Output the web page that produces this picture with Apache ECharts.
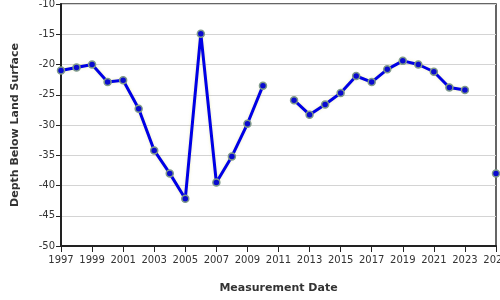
<!DOCTYPE html>
<html><head><meta charset="utf-8">
<script src="https://cdn.jsdelivr.net/npm/echarts@6/dist/echarts.min.js"></script>
<style>html,body{margin:0;padding:0;background:#fff}#c{width:500px;height:300px}</style>
</head><body><div id="c"></div>
<script>
const years = [1997,1998,1999,2000,2001,2002,2003,2004,2005,2006,2007,2008,2009,2010,2011,2012,2013,2014,2015,2016,2017,2018,2019,2020,2021,2022,2023,2024,2025];
const depths = [-21.0,-20.5,-20.0,-22.9,-22.6,-27.3,-34.2,-38.0,-42.2,-14.9,-39.5,-35.2,-29.8,-23.5,null,-25.9,-28.3,-26.6,-24.7,-21.9,-22.9,-20.8,-19.4,-20.0,-21.2,-23.8,-24.2,null,-38.0];
const yTitle = 'Depth Below Land Surface';
const xTitle = 'Measurement Date';

const chart = echarts.init(document.getElementById('c'), null, {renderer:'canvas'});
const font = 'DejaVu Sans';
chart.setOption({
  animation:false,
  grid:{left:61,right:4,top:4,bottom:54,containLabel:false,outerBoundsMode:'none',show:true,borderColor:'#333',borderWidth:1.5,backgroundColor:'transparent'},
  xAxis:{type:'value',min:1997,max:2025,interval:2,
    name:xTitle,nameLocation:'middle',nameGap:37,
    nameTextStyle:{fontFamily:font,fontSize:11,fontWeight:'bold',color:'#333'},
    axisLine:{show:true,lineStyle:{color:'#222',width:2}},
    axisTick:{show:true,length:6,lineStyle:{color:'#222',width:1}},
    axisLabel:{fontFamily:font,fontSize:10,color:'#333',margin:9,showMaxLabel:true,formatter:v=>String(v)},
    splitLine:{show:false}},
  yAxis:{type:'value',min:-50,max:-10,interval:5,
    name:yTitle,nameLocation:'middle',nameGap:40,nameRotate:90,
    nameTextStyle:{fontFamily:font,fontSize:11,fontWeight:'bold',color:'#333'},
    axisLine:{show:true,lineStyle:{color:'#222',width:2}},
    axisTick:{show:true,length:5,lineStyle:{color:'#222',width:1}},
    axisLabel:{fontFamily:font,fontSize:10,color:'#333',margin:6},
    splitLine:{show:true,lineStyle:{color:'#d4d4d4',width:1}}},
  series:[{type:'line',data:years.map((y,i)=>[y,depths[i]]),connectNulls:false,
    lineStyle:{color:'#0000e6',width:3,shadowColor:'rgba(220,220,120,0.5)',shadowBlur:3},
    symbol:'circle',symbolSize:7,showAllSymbol:true,
    itemStyle:{color:'#0a0ad0',borderColor:'#7f9a8a',borderWidth:1.5}}]
});
</script></body></html>
